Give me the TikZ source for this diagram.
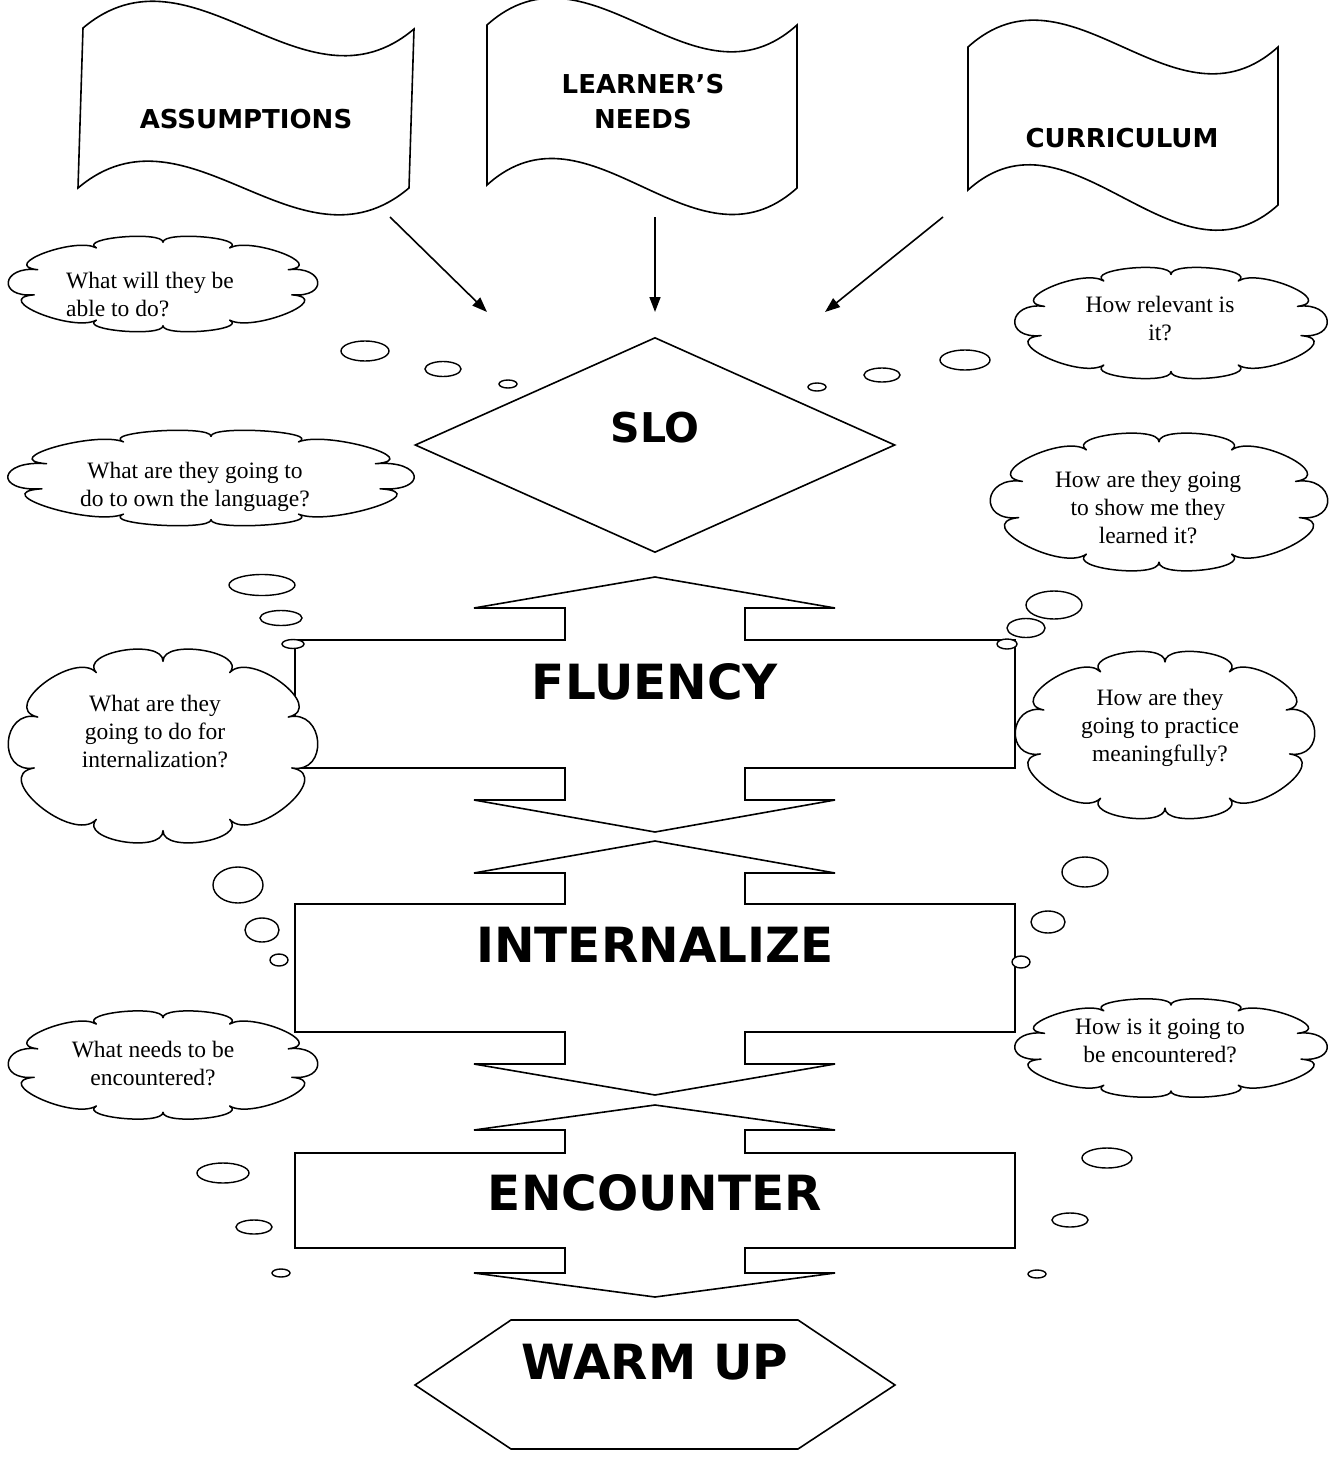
\documentclass[tikz,border=0pt]{standalone}
\usepackage{fontspec}
\setmainfont{Liberation Serif}
\newfontfamily\blackfont{DejaVu Sans}
\usetikzlibrary{shapes.geometric,arrows.meta,positioning}

% double-headed stage box: tip, base, box top, box bottom, base, tip
\newcommand{\stagearrow}[6]{%
  \draw[stage] (655,#1) -- (835,#2) -- (745,#2) -- (745,#3) -- (1015,#3)
    -- (1015,#4) -- (745,#4) -- (745,#5) -- (835,#5) -- (655,#6)
    -- (474,#5) -- (565,#5) -- (565,#4) -- (295,#4) -- (295,#3)
    -- (565,#3) -- (565,#2) -- (474,#2) -- cycle;}

% thought cloud: centre x, centre y, width, height
\newcommand{\thoughtcloud}[4]{%
  \begin{scope}[shift={(#1,#2)}, xscale=#3/2, yscale=#4/2]
    \draw[thought] (15:0.86)
      \foreach \a/\b/\r in {15/60/1.16,60/90/1.10,90/120/1.10,120/165/1.16,165/200/1.11,
                            200/240/1.13,240/270/1.10,270/300/1.10,300/340/1.13,340/375/1.11}
        { .. controls (\a:\r) and (\b:\r) .. (\b:0.86) } -- cycle;
  \end{scope}}

\begin{document}
\begin{tikzpicture}[
    x=1pt, y=-1pt,
    flag/.style={draw, line width=1.6pt, fill=white},
    flagtext/.style={font=\blackfont\bfseries\fontsize{26}{35}\selectfont, align=center, inner sep=0pt},
    stage/.style={draw, line width=1.6pt, line join=miter},
    stagetext/.style={font=\blackfont\bfseries\fontsize{48.5}{50}\selectfont, inner sep=0pt},
    thought/.style={draw, fill=white, line width=1.5pt, line join=round},
    question/.style={font=\fontsize{23.5}{28}\selectfont, align=center, inner sep=0pt},
    bubble/.style={draw, fill=white, line width=1.4pt},
    arrow/.style={-{Triangle[length=15pt, width=11pt]}, line width=1.6pt}
]
    \useasboundingbox (0,0) rectangle (1331,1458);

    % the three flags
    \draw[flag] (83,28) .. controls (193,-65) and (304,122) .. (414,29)
        -- (409,188) .. controls (299,281) and (188,95) .. (78,188) -- cycle;
    \node[flagtext] (assumptions) at (246,119) {ASSUMPTIONS};

    \draw[flag] (487,25) .. controls (590,-68) and (694,118) .. (797,25)
        -- (797,188) .. controls (694,281) and (590,92) .. (487,185) -- cycle;
    \node[flagtext] (needs) at (643,102) {LEARNER’S\\NEEDS};

    \draw[flag] (968,47) .. controls (1071,-46) and (1175,140) .. (1278,47)
        -- (1278,205) .. controls (1175,298) and (1071,97) .. (968,190) -- cycle;
    \node[flagtext] (curriculum) at (1122,138) {CURRICULUM};

    \coordinate (assumptions-out) at (390,217);
    \coordinate (needs-out) at (655,217);
    \coordinate (curriculum-out) at (943,217);
    \coordinate (slo-in-left) at (487,312);
    \coordinate (slo-in-top) at (655,312);
    \coordinate (slo-in-right) at (825,312);
    \draw[arrow] (assumptions-out) -- (slo-in-left);
    \draw[arrow] (needs-out) -- (slo-in-top);
    \draw[arrow] (curriculum-out) -- (slo-in-right);

    % SLO
    \node[diamond, draw, line width=1.6pt, minimum width=480pt, minimum height=215pt, inner sep=0pt] (slo) at (655,445) {};
    \node[font=\blackfont\bfseries\fontsize{41}{45}\selectfont, inner sep=0pt] (slo-text) at (655,428) {SLO};

    % stages
    \stagearrow{577}{608}{640}{768}{800}{832}
    \node[stagetext] (fluency) at (655,682) {FLUENCY};
    \stagearrow{841}{873}{904}{1032}{1064}{1095}
    \node[stagetext] (internalize) at (655,945) {INTERNALIZE};
    \stagearrow{1105}{1130}{1153}{1248}{1273}{1297}
    \node[stagetext] (encounter) at (655,1193) {ENCOUNTER};

    \draw[stage] (511,1320) -- (798,1320) -- (895,1385) -- (798,1449) -- (511,1449) -- (415,1385) -- cycle;
    \node[stagetext] (warmup) at (655,1362) {WARM UP};

    % thought clouds
    \thoughtcloud{163}{284}{310}{97}
    \node[question, align=left] (q1) at (150,295) {What will they be\\able to do?};
    \thoughtcloud{1171}{323}{313}{113}
    \node[question] (q2) at (1160,319) {How relevant is\\it?};
    \thoughtcloud{211}{478}{407}{97}
    \node[question] (q3) at (195,487) {What are they going to\\do to own the language?};
    \thoughtcloud{1159}{502}{338}{140}
    \node[question] (q4) at (1148,508) {How are they going\\to show me they\\learned it?};
    \thoughtcloud{163}{746}{310}{197}
    \node[question] (q5) at (155,732) {What are they\\going to do for\\internalization?};
    \thoughtcloud{1165}{735}{300}{170}
    \node[question] (q6) at (1160,728) {How are they\\going to practice\\meaningfully?};
    \thoughtcloud{163}{1065}{310}{110}
    \node[question] (q7) at (153,1064) {What needs to be\\encountered?};
    \thoughtcloud{1171}{1048}{313}{100}
    \node[question] (q8) at (1160,1041) {How is it going to\\be encountered?};

    % trailing bubbles
    \draw[bubble] (365,351) ellipse [x radius=24pt, y radius=10pt];
    \draw[bubble] (443,369) ellipse [x radius=18pt, y radius=7.5pt];
    \draw[bubble] (508,384) ellipse [x radius=9pt, y radius=4pt];
    \draw[bubble] (965,360) ellipse [x radius=25pt, y radius=10pt];
    \draw[bubble] (882,375) ellipse [x radius=18pt, y radius=7pt];
    \draw[bubble] (817,387) ellipse [x radius=9pt, y radius=4pt];

    \draw[bubble] (262,585) ellipse [x radius=33pt, y radius=10.5pt];
    \draw[bubble] (281,618) ellipse [x radius=21pt, y radius=7.5pt];
    \draw[bubble] (293,644) ellipse [x radius=11pt, y radius=4.5pt];
    \draw[bubble] (1054,605) ellipse [x radius=28pt, y radius=14pt];
    \draw[bubble] (1026,628) ellipse [x radius=19pt, y radius=9.5pt];
    \draw[bubble] (1007,644) ellipse [x radius=10pt, y radius=5pt];

    \draw[bubble] (238,885) ellipse [x radius=25pt, y radius=18pt];
    \draw[bubble] (262,930) ellipse [x radius=17pt, y radius=12pt];
    \draw[bubble] (279,960) ellipse [x radius=9pt, y radius=6pt];
    \draw[bubble] (1085,872) ellipse [x radius=23pt, y radius=15pt];
    \draw[bubble] (1048,922) ellipse [x radius=17pt, y radius=11pt];
    \draw[bubble] (1021,962) ellipse [x radius=9pt, y radius=6pt];

    \draw[bubble] (223,1173) ellipse [x radius=26pt, y radius=10pt];
    \draw[bubble] (254,1227) ellipse [x radius=18pt, y radius=7pt];
    \draw[bubble] (281,1273) ellipse [x radius=9pt, y radius=4pt];
    \draw[bubble] (1107,1158) ellipse [x radius=25pt, y radius=10pt];
    \draw[bubble] (1070,1220) ellipse [x radius=18pt, y radius=7pt];
    \draw[bubble] (1037,1274) ellipse [x radius=9pt, y radius=4pt];
\end{tikzpicture}
\end{document}
